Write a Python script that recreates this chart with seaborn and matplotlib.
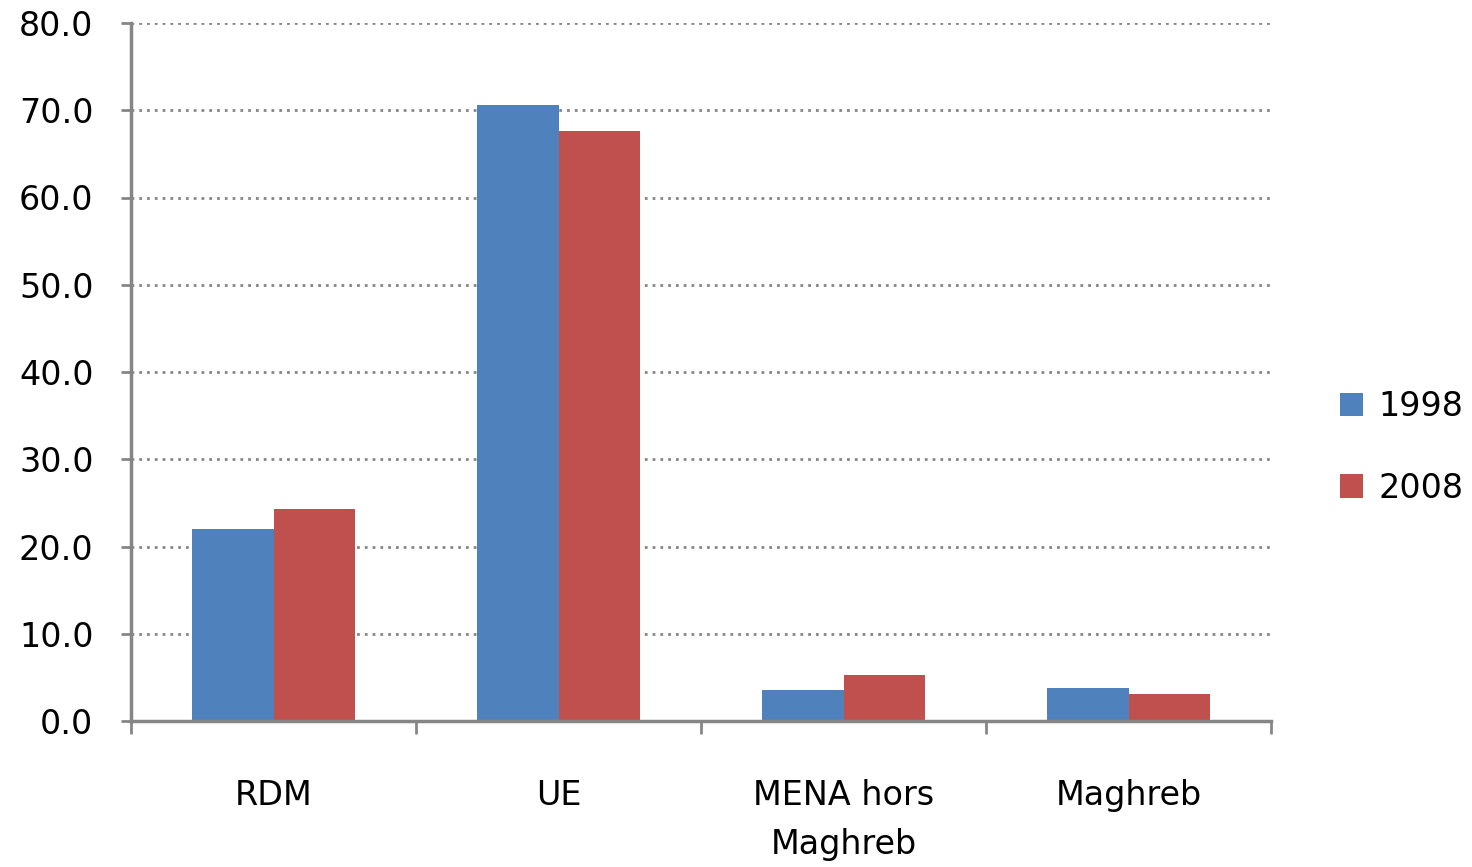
import numpy as np
import pandas as pd
import seaborn as sns
import matplotlib.pyplot as plt

regions = ["RDM", "UE", "MENA hors\nMaghreb", "Maghreb"]
years = ["1998", "2008"]
values_1998 = [22.0, 70.6, 3.5, 3.8]
values_2008 = [24.3, 67.6, 5.3, 3.1]

df = pd.DataFrame({
    "region": regions * 2,
    "year": [years[0]] * 4 + [years[1]] * 4,
    "value": values_1998 + values_2008,
})

sns.set_theme(style="white")
plt.rcParams['font.family'] = ['DejaVu Sans']
plt.rcParams['text.color'] = 'black'
plt.rcParams['xtick.color'] = 'black'
plt.rcParams['ytick.color'] = 'black'
grey = "#868686"
fs = 24

fig = plt.figure(figsize=(14.72, 8.67), dpi=100)
ax = fig.add_axes([131 / 1472, 1 - 721 / 867, 1140 / 1472, 698 / 867])

sns.barplot(data=df, x="region", y="value", hue="year", order=regions,
            hue_order=years, palette=["#4F81BD", "#C0504D"], width=0.575,
            gap=0, linewidth=0, saturation=1, ax=ax)

ax.set_xlim(-0.5, 3.5)
ax.set_ylim(0, 80)
ax.set_yticks(np.arange(0, 81, 10))
ax.set_yticklabels([f"{v:.1f}" for v in np.arange(0, 81, 10)], fontsize=fs)
ax.yaxis.grid(True, linestyle=(0, (1.0, 1.8)), color=grey, linewidth=2)
ax.set_axisbelow(True)
ax.set_xlabel("")
ax.set_ylabel("")

# category labels without ticks; ticks at boundaries
ax.set_xticks(np.arange(-0.5, 3.6, 1))
ax.set_xticklabels([])
ax.set_xticks(range(4), minor=True)
ax.set_xticklabels(regions, minor=True, fontsize=fs, linespacing=1.6, va="top")
ax.tick_params(axis="x", which="major", bottom=True, length=9, width=2,
               color=grey, direction="out")
ax.tick_params(axis="x", which="minor", bottom=True, length=0, pad=42)
ax.tick_params(axis="y", left=True, length=7, width=2, color=grey,
               direction="out", pad=20)

for side in ["top", "right"]:
    ax.spines[side].set_visible(False)
for side in ["left", "bottom"]:
    ax.spines[side].set_color(grey)
    ax.spines[side].set_linewidth(2.5)

leg = ax.legend(loc="center left", bbox_to_anchor=(1.034, 0.392), frameon=False,
                fontsize=fs, handlelength=0.7, handleheight=0.7,
                labelspacing=1.45, handletextpad=0.45)

fig.savefig("out.png", dpi=100)
